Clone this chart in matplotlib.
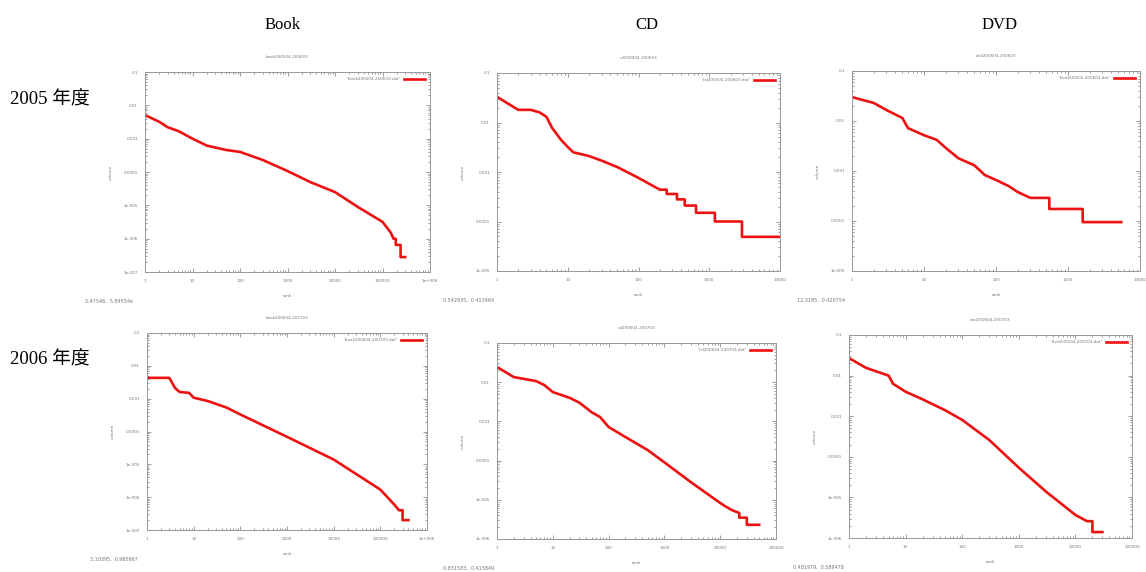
import matplotlib
matplotlib.use("Agg")
import matplotlib.pyplot as plt

# 列・行の見出し
col_names = ["Book", "CD", "DVD"]
row_names = ["2005 年度", "2006 年度"]

titles = ["book200504-200603", "cd200504-200603", "dvd200504-200603",
          "book200604-200703", "cd200604-200703", "dvd200604-200703"]
coords = ["5.47546,  5.84554e", "0.542935,  0.413464", "12.3195,  0.420754",
          "3.10395,  0.985667", "0.831583,  0.415849", "0.481979,  0.589478"]

# rank / 頻度
book05_rank = [1, 2, 3, 5, 10, 20, 50, 100, 300, 1000, 3000, 10000, 30000, 100000,
               150000, 170000, 190000, 190000, 240000, 240000, 300000]
book05_val = [0.0051, 0.0032, 0.0022, 0.0017, 0.0010, 0.00062, 0.00046, 0.0004, 0.00023,
              1.07e-4, 5e-5, 2.5e-5, 9e-6, 3.2e-6,
              1.5e-6, 1.0e-6, 1.0e-6, 6.5e-7, 6.5e-7, 2.8e-7, 2.8e-7]

cd05_rank = [1, 2, 3, 4, 5, 6, 8, 10, 12, 20, 30, 50, 100, 200, 250, 250, 350, 350,
             450, 450, 650, 650, 1200, 1200, 2900, 2900, 10000]
cd05_val = [0.033, 0.018, 0.018, 0.016, 0.013, 0.0078, 0.0045, 0.0032, 0.0025, 0.0021,
            0.0017, 0.00126, 0.00076, 0.00044, 0.00044, 0.00036, 0.00036, 0.00028,
            0.00028, 0.00021, 0.00021, 0.00015, 0.00015, 0.0001, 0.0001, 4.9e-5, 4.9e-5]

dvd05_rank = [1, 2, 3, 5, 6, 10, 15, 20, 30, 50, 70, 100, 150, 200, 300, 550, 550,
              1600, 1600, 5500]
dvd05_val = [0.030, 0.023, 0.0166, 0.0115, 0.0072, 0.0052, 0.0042, 0.0029, 0.0018, 0.0013,
             0.00083, 0.00066, 0.0005, 0.00038, 0.00029, 0.00029, 0.000174,
             0.000174, 0.000095, 0.000095]

book06_rank = [1, 3, 4, 5, 8, 10, 20, 50, 100, 1000, 10000, 100000, 200000, 250000,
               300000, 300000, 400000]
book06_val = [0.0043, 0.0043, 0.0021, 0.0016, 0.0015, 0.00107, 0.00085, 0.00054, 0.00033,
              6.9e-5, 1.4e-5, 1.7e-6, 5.9e-7, 4e-7, 4e-7, 2e-7, 2e-7]

cd06_rank = [1, 2, 5, 7, 10, 20, 30, 50, 70, 100, 200, 500, 1000, 3000, 10000, 12000,
             16000, 22000, 22000, 30000, 30000, 50000]
cd06_val = [0.0245, 0.0135, 0.0107, 0.0085, 0.0056, 0.004, 0.003, 0.0017, 0.0013, 0.00072,
            0.0004, 0.000186, 9e-5, 2.8e-5, 8.3e-6, 7e-6, 5.5e-6, 4.6e-6, 3.5e-6,
            3.5e-6, 2.3e-6, 2.3e-6]

dvd06_rank = [1, 2, 5, 6, 10, 20, 50, 100, 300, 1000, 3000, 10000, 16000, 20000, 20000,
              30000]
dvd06_val = [0.027, 0.0155, 0.01, 0.0063, 0.004, 0.0026, 0.0014, 0.00081, 0.00026, 5.4e-5,
             1.4e-5, 3.7e-6, 2.6e-6, 2.6e-6, 1.4e-6, 1.4e-6]

ranks = [book05_rank, cd05_rank, dvd05_rank, book06_rank, cd06_rank, dvd06_rank]
vals = [book05_val, cd05_val, dvd05_val, book06_val, cd06_val, dvd06_val]
xmax = [1e6, 1e4, 1e4, 1e6, 1e5, 1e5]
ymin = [1e-7, 1e-5, 1e-5, 1e-7, 1e-6, 1e-6]

ylab_map = {0.1: "0.1", 0.01: "0.01", 0.001: "0.001", 0.0001: "0.0001",
            1e-5: "1e-005", 1e-6: "1e-006", 1e-7: "1e-007"}
xlab_map = {1: "1", 10: "10", 100: "100", 1000: "1000", 10000: "10000",
            100000: "100000", 1000000: "1e+006"}

W, H = 1146, 572
# 各パネルの位置 (px: left, top, right, bottom)
rects = [(145, 72, 430, 272), (497, 73, 780, 271), (852, 71, 1140, 271),
         (147, 333, 427, 530), (497, 343, 776, 539), (849, 335, 1132, 538)]
coord_x = [85, 443, 797, 90, 443, 793]

fig = plt.figure(figsize=(W / 100, H / 100), dpi=100)
gray = "#777777"

for i in range(6):
    l, t, r, b = rects[i]
    ax = fig.add_axes([l / W, (H - b) / H, (r - l) / W, (b - t) / H])
    ax.plot(ranks[i], vals[i], color="#ee1111", lw=1.9,
            label='"' + titles[i] + '.dat"')
    ax.set_xscale("log")
    ax.set_yscale("log")
    ax.set_xlim(1, xmax[i])
    ax.set_ylim(ymin[i], 0.1)
    yt = [v for v in ylab_map if v >= ymin[i] * 0.99]
    xt = [v for v in xlab_map if v <= xmax[i] * 1.01]
    ax.set_yticks(yt)
    ax.set_yticklabels([ylab_map[v] for v in yt])
    ax.set_xticks(xt)
    ax.set_xticklabels([xlab_map[v] for v in xt])
    ax.tick_params(which="both", direction="in", top=True, right=True,
                   labelsize=3, colors=gray, width=0.5, pad=5)
    ax.tick_params(which="major", length=3)
    ax.tick_params(which="minor", length=1.5)
    for s in ax.spines.values():
        s.set_color("#999999")
        s.set_linewidth(0.7)
    ax.set_title(titles[i], fontsize=3, color=gray, pad=10)
    ax.set_xlabel("rank", fontsize=3, color=gray, labelpad=8)
    ax.set_ylabel("column", fontsize=3, color=gray, labelpad=8)
    leg = ax.legend(loc="upper right", frameon=False, fontsize=3, markerfirst=False,
                    handlelength=5, borderaxespad=0.8)
    for txt in leg.get_texts():
        txt.set_color(gray)
    fig.text(coord_x[i] / W, (H - b - 29) / H, coords[i], fontsize=3.5, color=gray,
             va="center")

col_x = [283, 647, 1000]
for j, name in enumerate(col_names):
    fig.text(col_x[j] / W, (H - 25) / H, name, fontsize=12, ha="center", va="center",
             family=["Liberation Serif", "Noto Sans CJK JP"])
row_y = [100, 360]
for j, name in enumerate(row_names):
    fig.text(10 / W, (H - row_y[j]) / H, name, fontsize=13.5, ha="left", va="center",
             family=["Liberation Serif", "Noto Sans CJK JP"])

fig.savefig("out.png", dpi=100)
